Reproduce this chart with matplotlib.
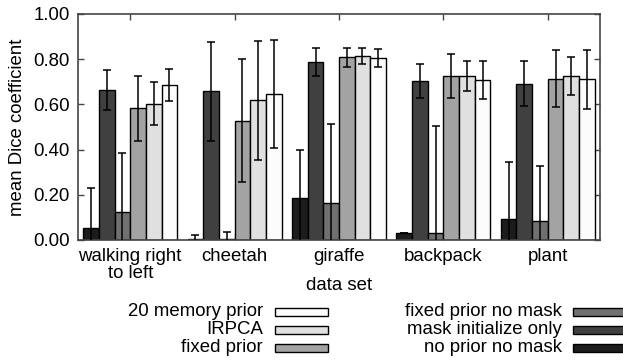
import matplotlib
matplotlib.use("Agg")
import matplotlib.pyplot as plt
from matplotlib.patches import Rectangle
import numpy as np

plt.rcParams['font.family'] = ['Liberation Sans', 'DejaVu Sans']

categories = ["walking right\nto left", "cheetah", "giraffe", "backpack", "plant"]
series_names = ["no prior no mask", "mask initialize only", "fixed prior no mask",
                "fixed prior", "IRPCA", "20 memory prior"]
colors = ["#1c1c1c", "#404040", "#707070", "#a3a3a3", "#e0e0e0", "#fcfcfc"]

no_prior_no_mask = [0.054, 0.005, 0.187, 0.029, 0.094]
no_prior_no_mask_err = [0.175, 0.017, 0.211, 0.0, 0.252]
mask_init_only = [0.664, 0.658, 0.786, 0.704, 0.692]
mask_init_only_err = [0.088, 0.218, 0.062, 0.074, 0.100]
fixed_prior_no_mask = [0.125, 0.003, 0.164, 0.031, 0.083]
fixed_prior_no_mask_err = [0.259, 0.032, 0.348, 0.473, 0.244]
fixed_prior = [0.583, 0.528, 0.808, 0.727, 0.714]
fixed_prior_err = [0.144, 0.272, 0.043, 0.098, 0.126]
irpca = [0.603, 0.618, 0.814, 0.726, 0.726]
irpca_err = [0.096, 0.262, 0.034, 0.068, 0.084]
mem20_prior = [0.687, 0.645, 0.805, 0.709, 0.711]
mem20_prior_err = [0.071, 0.240, 0.041, 0.085, 0.130]

values = [no_prior_no_mask, mask_init_only, fixed_prior_no_mask, fixed_prior, irpca, mem20_prior]
errors = [no_prior_no_mask_err, mask_init_only_err, fixed_prior_no_mask_err,
          fixed_prior_err, irpca_err, mem20_prior_err]
yticks = [0.0, 0.2, 0.4, 0.6, 0.8, 1.0]
ytick_labels = ["0.00", "0.20", "0.40", "0.60", "0.80", "1.00"]

FS = 13.4
fig = plt.figure(figsize=(6.23, 3.61), dpi=100)
ax = fig.add_axes([78/623, 1 - 240/361, (600-78)/623, (240-14)/361])

x = np.arange(len(categories))
w = 0.15
n = len(values)
for i, (v, e, c) in enumerate(zip(values, errors, colors)):
    pos = x + (i - (n - 1) / 2) * w
    ax.bar(pos, v, width=w, color=c, edgecolor="black", linewidth=1.0, zorder=2)
    ax.errorbar(pos, v, yerr=e, fmt="none", ecolor="black", elinewidth=1.1,
                capsize=3.2, capthick=1.1, zorder=3)

ax.set_xlim(-0.5, len(categories) - 0.5)
ax.set_ylim(0, 1.0)
ax.set_xticks(x)
ax.set_xticklabels(categories, fontsize=FS, linespacing=0.95)
ax.set_yticks(yticks)
ax.set_yticklabels(ytick_labels, fontsize=FS)
ax.tick_params(direction="in", length=4, width=1, top=True, right=True,
               color="#444444")
ax.tick_params(axis="x", pad=6)
ax.tick_params(axis="y", pad=6)
for s in ax.spines.values():
    s.set_color("#444444")
    s.set_linewidth(1.2)
ax.set_xlabel("data set", fontsize=FS)
ax.set_ylabel("mean Dice coefficient", fontsize=FS)
ax.xaxis.set_label_coords(0.5, (240 - 285) / 226)
ax.yaxis.set_label_coords((17 - 78) / 522, 0.5)
ax.xaxis.label.set_va("center")
ax.yaxis.label.set_va("center")

# legend (gnuplot style: right-aligned text, then sample box)
rows_y = [312, 330, 348]
col_text_right = [263, 562]
col_box_left = [275, 573]
box_w, box_h = 53, 8
legend_cols = [[5, 4, 3], [2, 1, 0]]
for ci, idxs in enumerate(legend_cols):
    for ri, si in enumerate(idxs):
        yc = 1 - rows_y[ri] / 361
        fig.text(col_text_right[ci] / 623, yc, series_names[si], ha="right",
                 va="center", fontsize=FS)
        fig.patches.append(Rectangle((col_box_left[ci] / 623, yc - box_h / 2 / 361),
                                     box_w / 623, box_h / 361, transform=fig.transFigure,
                                     facecolor=colors[si], edgecolor="black",
                                     linewidth=1.0, figure=fig))

fig.savefig("out.png", dpi=100)
